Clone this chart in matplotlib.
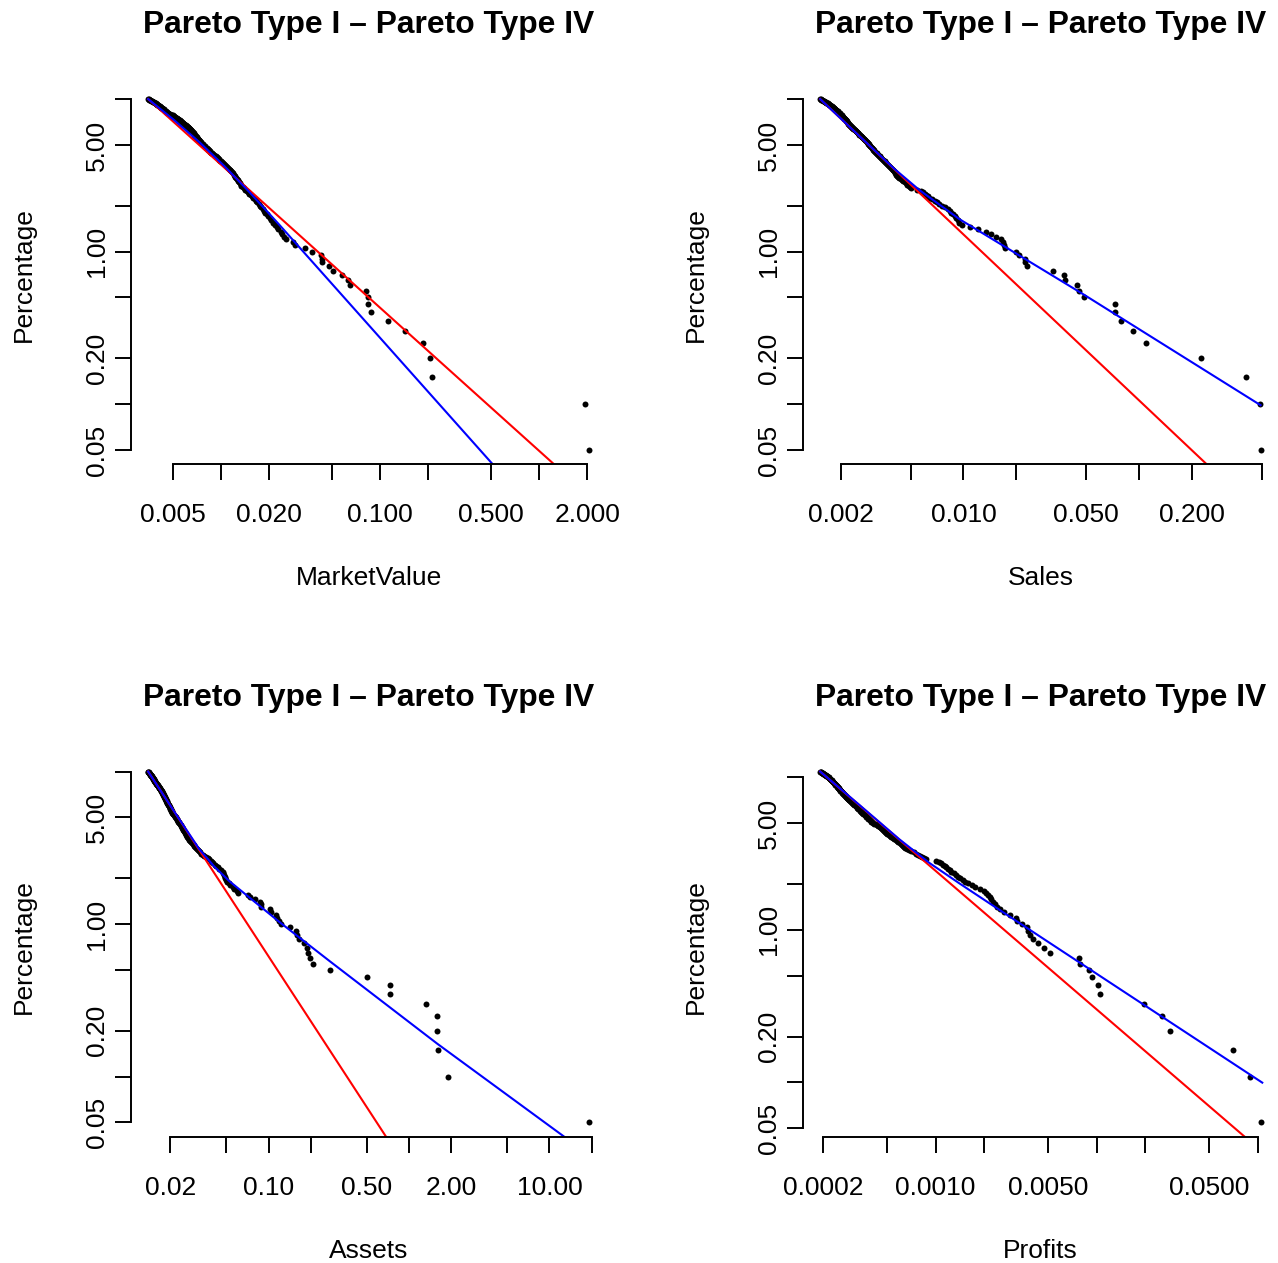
import numpy as np
import matplotlib
matplotlib.use('Agg')
import matplotlib.pyplot as plt
from matplotlib.ticker import NullLocator

plt.rcParams['font.family'] = ['Liberation Sans', 'DejaVu Sans']

# upper tail of each variable, largest company first
market_value = [
    2.05, 1.94, 0.212, 0.207, 0.186, 0.143, 0.112, 0.0877, 0.0844, 0.0836,
    0.0816, 0.0644, 0.063, 0.0576, 0.0507, 0.0477, 0.0432, 0.0429, 0.0425, 0.0372,
    0.034, 0.0294, 0.0284, 0.0258, 0.0248, 0.0243, 0.0237, 0.0230, 0.0224,
    0.02175, 0.02125, 0.02074, 0.02024, 0.01973, 0.01937, 0.01901, 0.01865, 0.01829,
    0.01793, 0.0176, 0.01727, 0.01694, 0.0166, 0.01627, 0.01597, 0.01567, 0.01536, 0.01506,
    0.01476, 0.01449, 0.01422, 0.01395, 0.01368,
    0.01341, 0.01328, 0.01314, 0.01301, 0.01287, 0.01274, 0.0126,
    0.01247, 0.01233, 0.01218, 0.01204, 0.01189, 0.01175, 0.0116,
    0.01147, 0.01133, 0.0112, 0.01106, 0.01093, 0.01079,
    0.01065, 0.0105, 0.01036, 0.01021, 0.01007, 0.00992, 0.00978,
    0.00966, 0.00953, 0.00941, 0.00929, 0.00916, 0.00904, 0.00892, 0.00879, 0.00867,
    0.00859, 0.0085, 0.00842, 0.00834, 0.00825, 0.00817, 0.00808, 0.008, 0.00792,
    0.00783, 0.00775, 0.00767, 0.00758, 0.0075,
    0.00745, 0.0074, 0.00735, 0.0073, 0.00725, 0.0072, 0.00716, 0.00711, 0.00706,
    0.00701, 0.00696, 0.00691, 0.00686, 0.00681,
    0.00677, 0.00673, 0.00669, 0.00665, 0.00661, 0.00657, 0.00653, 0.00649, 0.00645,
    0.00641, 0.00637, 0.00633,
    0.00628, 0.00622, 0.00617, 0.00612, 0.00606, 0.00601, 0.00595, 0.0059, 0.00585,
    0.00579, 0.00574,
    0.00569, 0.00565, 0.0056, 0.00555, 0.00551, 0.00546, 0.00541, 0.00537, 0.00532,
    0.00528, 0.00523, 0.00518, 0.00514, 0.00509,
    0.00503, 0.00497, 0.00491, 0.00485, 0.0048, 0.00474, 0.00468, 0.00462,
    0.00459, 0.00456, 0.00453, 0.0045, 0.00448, 0.00445, 0.00442, 0.00439, 0.00436,
    0.00433, 0.0043, 0.00428, 0.00425, 0.00422, 0.00419, 0.00416, 0.00413, 0.0041,
    0.00408, 0.00405, 0.00402, 0.00399,
    0.00396, 0.00393, 0.00389, 0.00386, 0.00383, 0.0038, 0.00377, 0.00374, 0.00371,
    0.00368, 0.00365, 0.00361, 0.00358, 0.00355, 0.00352, 0.00349,
]

sales = [
    0.495, 0.49, 0.409, 0.227, 0.1092, 0.0924, 0.0789, 0.0729, 0.0726, 0.0485,
    0.0458, 0.0441, 0.0381, 0.0376, 0.0324, 0.0231, 0.0224, 0.0223, 0.0207, 0.0198,
    0.01715, 0.017, 0.01678, 0.01642, 0.01538, 0.01427, 0.01336, 0.01207, 0.01082, 0.00983,
    0.00945, 0.00925, 0.009085,
    0.008895, 0.008704, 0.008514, 0.008323, 0.008133,
    0.007853, 0.007572, 0.007292,
    0.007067, 0.006841, 0.006616, 0.006391,
    0.006259, 0.006127, 0.005995, 0.005863, 0.00573,
    0.0054, 0.005026,
    0.004946, 0.004866, 0.004786, 0.004706,
    0.004624, 0.004542, 0.00446, 0.004377, 0.004295, 0.004213,
    0.004174, 0.004136, 0.004097, 0.004058, 0.004019, 0.00398, 0.003942, 0.003903, 0.003864,
    0.003819, 0.003774, 0.003729, 0.003684, 0.003638, 0.003593, 0.003548, 0.003503, 0.003458,
    0.003425, 0.003393, 0.00336, 0.003328, 0.003295, 0.003263, 0.00323, 0.003198,
    0.003165, 0.003133, 0.0031,
    0.003079, 0.003057, 0.003036, 0.003015, 0.002993, 0.002972, 0.002951, 0.002929,
    0.002908, 0.002887, 0.002865, 0.002844, 0.002823, 0.002801, 0.00278,
    0.002759, 0.002738, 0.002718, 0.002697, 0.002676, 0.002655, 0.002634, 0.002614,
    0.002593, 0.002572, 0.002551, 0.00253, 0.00251, 0.002489,
    0.002473, 0.002457, 0.002441, 0.002425, 0.002409, 0.002393, 0.002376, 0.00236,
    0.002344, 0.002328, 0.002312, 0.002296, 0.00228, 0.002264, 0.002248, 0.002232,
    0.002222, 0.002211, 0.002201, 0.00219, 0.00218, 0.002169, 0.002159, 0.002148, 0.002138,
    0.002127, 0.002117, 0.002106, 0.002096, 0.002085, 0.002075, 0.002064, 0.002054, 0.002043,
    0.002032, 0.002022, 0.002011, 0.002001, 0.00199, 0.00198, 0.001969, 0.001959,
    0.001948, 0.001938, 0.001927, 0.001916, 0.001906, 0.001895, 0.001885, 0.001874,
    0.001863, 0.001851, 0.00184, 0.001829, 0.001817, 0.001806, 0.001794, 0.001783,
    0.001772, 0.00176, 0.001749, 0.001738, 0.001726, 0.001715,
    0.001703, 0.001691, 0.001679, 0.001667, 0.001655, 0.001643, 0.001631, 0.00162,
    0.001608, 0.001596, 0.001584, 0.001572, 0.00156, 0.001548, 0.001536, 0.001524,
]

assets = [
    19.09, 1.899, 1.603, 1.594, 1.585, 1.315, 0.7317, 0.728, 0.501, 0.2757,
    0.2062, 0.1984, 0.19, 0.1868, 0.1778, 0.1638, 0.1594, 0.1567, 0.142, 0.1218,
    0.1185, 0.1147, 0.1128, 0.1045, 0.1033, 0.0891, 0.0886, 0.0872, 0.0807, 0.074,
    0.0712, 0.0611, 0.0594, 0.0572, 0.0556,
    0.0532, 0.052, 0.051, 0.04988,
    0.04934, 0.0488, 0.04825, 0.04771, 0.04717,
    0.04596, 0.04474, 0.04353, 0.04231,
    0.04143, 0.04055, 0.03967, 0.03879, 0.03791,
    0.03694, 0.03597, 0.03501, 0.03404, 0.03307,
    0.03255, 0.03202, 0.0315, 0.03097, 0.03045,
    0.03005, 0.02966, 0.02926, 0.02886, 0.02846, 0.02807, 0.02767, 0.02727,
    0.02706, 0.02684, 0.02663, 0.02641, 0.0262, 0.02598, 0.02577, 0.02555, 0.02534, 0.02512,
    0.02494, 0.02476, 0.02458, 0.0244, 0.02422, 0.02403, 0.02385, 0.02367, 0.02349,
    0.02331, 0.02313,
    0.02297, 0.02281, 0.02265, 0.02249, 0.02233, 0.02217, 0.022, 0.02184, 0.02168,
    0.02152, 0.02136, 0.0212, 0.02104, 0.02088, 0.02072,
    0.02062, 0.02053, 0.02043, 0.02034, 0.02024, 0.02014, 0.02005, 0.01995, 0.01986,
    0.01976, 0.01967, 0.01957, 0.01947, 0.01938, 0.01928, 0.01919, 0.01909,
    0.01902, 0.01895, 0.01888, 0.0188, 0.01873, 0.01866, 0.01859, 0.01852, 0.01844,
    0.01837, 0.0183, 0.01823, 0.01816, 0.01808, 0.01801, 0.01794, 0.01787, 0.0178,
    0.01772, 0.01765, 0.01758,
    0.0175, 0.01742, 0.01734, 0.01727, 0.01719, 0.01711, 0.01703, 0.01695, 0.01687,
    0.01679, 0.01671, 0.01664, 0.01656, 0.01648, 0.0164, 0.01632, 0.01624, 0.01616,
    0.01608, 0.01601, 0.01593, 0.01585, 0.01577,
    0.01571, 0.01565, 0.01559, 0.01553, 0.01547, 0.01542, 0.01536, 0.0153, 0.01524,
    0.01518, 0.01512, 0.01507, 0.01501, 0.01495, 0.01489, 0.01483, 0.01478, 0.01472,
    0.01466, 0.0146, 0.01454, 0.01448, 0.01443, 0.01437, 0.01431, 0.01425, 0.01419,
    0.01413, 0.01408, 0.01402, 0.01396, 0.0139,
]

profits = [
    0.1043, 0.0887, 0.0705, 0.02847, 0.02539, 0.01962, 0.01053, 0.01014, 0.00939, 0.00892,
    0.00788, 0.00773, 0.00512, 0.0047, 0.00433, 0.00403, 0.00386, 0.00375, 0.00368, 0.00343,
    0.00319, 0.00315, 0.0029, 0.00264,
    0.0025, 0.00242, 0.00235, 0.00228, 0.00222, 0.00218, 0.00212, 0.00205, 0.002, 0.00188,
    0.001749,
    0.001671, 0.001594, 0.001516,
    0.00147, 0.001423, 0.001377,
    0.001336, 0.001294, 0.001253,
    0.001224, 0.001196, 0.001167, 0.001138,
    0.001106, 0.001074, 0.001042, 0.00101,
    0.0008753, 0.0008506, 0.0008258, 0.0008011, 0.0007763,
    0.000753, 0.0007296, 0.0007063,
    0.0006847, 0.0006632, 0.0006416,
    0.0006327, 0.0006238, 0.000615, 0.0006061, 0.0005972,
    0.0005863, 0.0005753, 0.0005644, 0.0005534, 0.0005425,
    0.0005344, 0.0005263, 0.0005183, 0.0005102, 0.0005021, 0.000494,
    0.0004884, 0.0004827, 0.000477, 0.0004713, 0.0004656, 0.00046, 0.0004543, 0.0004486,
    0.0004403, 0.0004321, 0.0004238, 0.0004156, 0.0004073,
    0.0004033, 0.0003992, 0.0003952, 0.0003911, 0.0003871, 0.000383, 0.000379,
    0.0003756, 0.0003722, 0.0003688, 0.0003654, 0.000362, 0.0003585, 0.0003551,
    0.0003517, 0.0003483, 0.0003449,
    0.0003423, 0.0003396, 0.000337, 0.0003344, 0.0003317, 0.0003291, 0.0003265,
    0.0003238, 0.0003212, 0.0003186, 0.0003159, 0.0003133,
    0.0003109, 0.0003085, 0.0003061, 0.0003037, 0.0003013, 0.000299, 0.0002966,
    0.0002942, 0.0002918, 0.0002894, 0.000287, 0.0002846,
    0.0002829, 0.0002812, 0.0002795, 0.0002778, 0.0002761, 0.0002744, 0.0002727,
    0.0002709, 0.0002692, 0.0002675, 0.0002658, 0.0002641, 0.0002624, 0.0002607, 0.000259,
    0.0002578, 0.0002565, 0.0002553, 0.000254, 0.0002528, 0.0002515, 0.0002503,
    0.0002491, 0.0002478, 0.0002466, 0.0002453, 0.0002441, 0.0002429, 0.0002416,
    0.0002404, 0.0002391, 0.0002379, 0.0002366, 0.0002354,
    0.0002342, 0.000233, 0.0002318, 0.0002306, 0.0002295, 0.0002283, 0.0002271,
    0.0002259, 0.0002247, 0.0002235, 0.0002223, 0.0002211, 0.0002199, 0.0002188,
    0.0002176, 0.0002164, 0.0002152, 0.000214,
    0.0002125, 0.0002111, 0.0002096, 0.0002081, 0.0002067, 0.0002052, 0.0002037,
    0.0002023, 0.0002008, 0.0001993, 0.0001979, 0.0001964, 0.0001949, 0.0001935, 0.000192,
]

# companies each percentage is taken over (profits: positive ones only)
n_market_value = 2000
n_sales = 2000
n_assets = 2000
n_profits = 1830

# fitted Pareto I (straight) and Pareto IV survival lines, as (x, percentage)
pareto1_market_value = ([0.00349, 2.05], [10.0, 0.0251])
pareto4_market_value = ([0.00349, 0.00509, 0.00732, 0.01052, 0.01513, 0.02339, 2.05],
                        [10.0, 7.27, 5.22, 3.63, 2.45, 1.49, 0.0079])
pareto1_sales = ([0.001524, 0.495], [10.0, 0.0186])
pareto4_sales = ([0.001524, 0.002545, 0.004033, 0.005606, 0.009487, 0.0485, 0.493],
                 [10.0, 5.73, 3.49, 2.53, 1.63, 0.522, 0.0983])
pareto1_assets = ([0.0139, 1.0], [10.0, 0.0237])
pareto4_assets = ([0.0139, 0.02131, 0.03215, 0.04113, 0.05265, 0.1198, 0.2727, 1.593, 19.09],
                  [10.0, 5.47, 3.10, 2.38, 1.91, 1.03, 0.571, 0.164, 0.0307])
pareto1_profits = ([0.000192, 0.1043], [10.93, 0.0357])
pareto4_profits = ([0.000192, 0.0003366, 0.0005972, 0.0009177, 0.00141, 0.002168, 0.1064],
                   [10.93, 6.60, 3.92, 2.743, 2.014, 1.49, 0.0997])

# axis ticks; empty strings are ticks whose labels were dropped for overlap
y_ticks = [0.05, 0.1, 0.2, 0.5, 1, 2, 5, 10]
y_labels = ['0.05', '', '0.20', '', '1.00', '', '5.00', '']
x_ticks_market_value = [0.005, 0.01, 0.02, 0.05, 0.1, 0.2, 0.5, 1, 2]
x_labels_market_value = ['0.005', '', '0.020', '', '0.100', '', '0.500', '', '2.000']
x_ticks_sales = [0.002, 0.005, 0.01, 0.02, 0.05, 0.1, 0.2, 0.5]
x_labels_sales = ['0.002', '', '0.010', '', '0.050', '', '0.200', '']
x_ticks_assets = [0.02, 0.05, 0.1, 0.2, 0.5, 1, 2, 5, 10, 20]
x_labels_assets = ['0.02', '', '0.10', '', '0.50', '', '2.00', '', '10.00', '']
x_ticks_profits = [0.0002, 0.0005, 0.001, 0.002, 0.005, 0.01, 0.02, 0.05, 0.1]
x_labels_profits = ['0.0002', '', '0.0010', '', '0.0050', '', '', '0.0500', '']

W, H = 1278, 1263
fig = plt.figure(figsize=(W / 100, H / 100), dpi=100)


def r_range(lo, hi):
    # log axis padded by 4% on both sides
    a, b = np.log10(lo), np.log10(hi)
    d = 0.04 * (b - a)
    return 10 ** (a - d), 10 ** (b + d)


def fig_xy(x, y):
    return x / W, 1 - y / H


def tail_panel(left, top, values, n, name, xt, xl, line1, line4):
    width, height = 476, 379
    ax = fig.add_axes([left / W, 1 - (top + height) / H, width / W, height / H])
    x = np.array(values)
    pct = 100.0 * np.arange(1, len(x) + 1) / n

    ax.plot(x, pct, 'o', color='black', markersize=4.3, markeredgewidth=0)
    ax.plot(line1[0], line1[1], color='#ff0000', lw=1.5)
    ax.plot(line4[0], line4[1], color='#0000ff', lw=1.5)

    ax.set_xscale('log')
    ax.set_yscale('log')
    ax.set_xlim(r_range(x.min(), x.max()))
    ax.set_ylim(r_range(pct.min(), pct.max()))

    ax.set_xticks(xt)
    ax.set_xticklabels(xl)
    ax.set_yticks(y_ticks)
    ax.set_yticklabels(y_labels, rotation=90, va='center')
    ax.xaxis.set_minor_locator(NullLocator())
    ax.yaxis.set_minor_locator(NullLocator())
    ax.tick_params(axis='both', direction='out', length=11.2, width=1.4,
                   labelsize=19, colors='black')
    ax.tick_params(axis='x', pad=17)
    ax.tick_params(axis='y', pad=4)

    for side in ('top', 'right'):
        ax.spines[side].set_visible(False)
    ax.spines['left'].set_bounds(y_ticks[0], y_ticks[-1])
    ax.spines['bottom'].set_bounds(xt[0], xt[-1])
    ax.spines['left'].set_linewidth(1.4)
    ax.spines['bottom'].set_linewidth(1.4)

    cx = left + width / 2
    fig.text(*fig_xy(cx, top - 51.6), 'Pareto Type I \u2013 Pareto Type IV',
             ha='center', va='baseline', fontsize=22.9, fontweight='bold')
    fig.text(*fig_xy(cx, top + height + 121), name,
             ha='center', va='baseline', fontsize=19)
    fig.text(*fig_xy(left - 107, top + height / 2), 'Percentage',
             ha='center', va='center', rotation=90, fontsize=19)
    return ax


tail_panel(130.5, 85, market_value, n_market_value, 'MarketValue',
           x_ticks_market_value, x_labels_market_value,
           pareto1_market_value, pareto4_market_value)
tail_panel(802.5, 85, sales, n_sales, 'Sales',
           x_ticks_sales, x_labels_sales, pareto1_sales, pareto4_sales)
tail_panel(130.5, 757.5, assets, n_assets, 'Assets',
           x_ticks_assets, x_labels_assets, pareto1_assets, pareto4_assets)
tail_panel(802.5, 757.5, profits, n_profits, 'Profits',
           x_ticks_profits, x_labels_profits, pareto1_profits, pareto4_profits)

fig.savefig('out.png', dpi=100)
